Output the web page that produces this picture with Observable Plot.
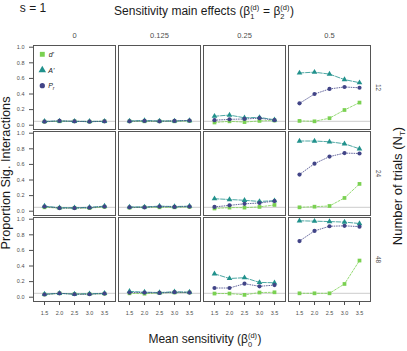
<!DOCTYPE html>
<html>
<head>
<meta charset="utf-8">
<script src="https://cdn.jsdelivr.net/npm/d3@7"></script>
<script src="https://cdn.jsdelivr.net/npm/@observablehq/plot@0.6"></script>
<style>
  body { margin: 0; background: #fff; }
  #chart svg { display: block; }
</style>
</head>
<body>
<div id="chart"></div>
<script>
// Facet levels
const effects = ["0", "0.125", "0.25", "0.5"];      // sensitivity main effects (columns)
const trials = [12, 24, 48];                         // number of trials (rows)
const sensitivity = [1.5, 2.0, 2.5, 3.0, 3.5];       // mean sensitivity (x)
const measures = ["d'", "A'", "Pr"];
const alphaLevel = 0.05;
const yTicks = [0, 0.2, 0.4, 0.6, 0.8, 1.0];

// Proportion of significant interactions: [trials][effect][sensitivity]
const dPrime = [
  [[0.045, 0.05, 0.05, 0.045, 0.05], [0.05, 0.05, 0.05, 0.05, 0.055], [0.035, 0.05, 0.04, 0.055, 0.06], [0.055, 0.05, 0.09, 0.195, 0.29]],
  [[0.05, 0.04, 0.04, 0.04, 0.055], [0.045, 0.05, 0.05, 0.05, 0.055], [0.035, 0.046, 0.046, 0.055, 0.08], [0.05, 0.058, 0.067, 0.17, 0.35]],
  [[0.035, 0.05, 0.04, 0.04, 0.045], [0.05, 0.045, 0.055, 0.06, 0.06], [0.047, 0.047, 0.03, 0.06, 0.063], [0.05, 0.05, 0.05, 0.17, 0.47]]
];
const aPrime = [
  [[0.05, 0.055, 0.05, 0.05, 0.05], [0.055, 0.06, 0.055, 0.055, 0.06], [0.115, 0.13, 0.095, 0.10, 0.07], [0.67, 0.68, 0.655, 0.585, 0.545]],
  [[0.065, 0.045, 0.045, 0.05, 0.065], [0.055, 0.055, 0.065, 0.06, 0.065], [0.16, 0.15, 0.14, 0.125, 0.135], [0.90, 0.90, 0.89, 0.865, 0.80]],
  [[0.04, 0.05, 0.04, 0.045, 0.05], [0.075, 0.065, 0.06, 0.07, 0.065], [0.30, 0.24, 0.25, 0.19, 0.185], [0.98, 0.975, 0.97, 0.963, 0.945]]
];
const pR = [
  [[0.045, 0.055, 0.05, 0.045, 0.05], [0.05, 0.055, 0.05, 0.055, 0.06], [0.065, 0.075, 0.08, 0.09, 0.065], [0.28, 0.40, 0.465, 0.49, 0.48]],
  [[0.06, 0.04, 0.04, 0.045, 0.06], [0.05, 0.05, 0.06, 0.055, 0.06], [0.055, 0.075, 0.095, 0.105, 0.13], [0.47, 0.61, 0.70, 0.745, 0.74]],
  [[0.035, 0.05, 0.038, 0.038, 0.047], [0.06, 0.06, 0.055, 0.065, 0.06], [0.118, 0.118, 0.173, 0.14, 0.155], [0.72, 0.85, 0.91, 0.915, 0.905]]
];

const colors = ["#7AD151", "#21918C", "#414487"];
const symbols = ["square", "triangle", "circle"];
const dashes = ["2,1.6", "4.5,1.6", "0.8,1.6"];

// Long-format table for the marks
const series = [dPrime, aPrime, pR];
const rows = [];
measures.forEach((m, mi) => {
  trials.forEach((n, i) => {
    effects.forEach((e, j) => {
      sensitivity.forEach((s, k) => {
        rows.push({measure: m, trials: n, effect: e, sensitivity: s, value: series[mi][i][j][k]});
      });
    });
  });
});

const font = "'Liberation Sans', Arial, sans-serif";

const plot = Plot.plot({
  width: 407,
  height: 351,
  marginTop: 44,
  marginBottom: 49,
  marginLeft: 33,
  marginRight: 36,
  style: {fontFamily: font, background: "#fff", color: "#4d4d4d"},
  fx: {domain: effects, paddingInner: 0.035, paddingOuter: 0},
  fy: {domain: trials, paddingInner: 0.029, paddingOuter: 0},
  x: {type: "point", domain: sensitivity, padding: 0.6},
  y: {domain: [-0.055, 1.022]},
  color: {domain: measures, range: colors},
  symbol: {domain: measures, range: symbols},
  marks: [
    Plot.ruleY([alphaLevel], {stroke: "#d6d6d6", strokeWidth: 1.2}),
    ...measures.map((m, mi) => Plot.line(rows.filter(d => d.measure === m), {
      x: "sensitivity", y: "value", fx: "effect", fy: "trials",
      stroke: colors[mi], strokeWidth: 0.8, strokeDasharray: dashes[mi]
    })),
    Plot.dot(rows, {
      x: "sensitivity", y: "value", fx: "effect", fy: "trials",
      symbol: "measure", fill: "measure", r: 2.1
    }),
    Plot.frame({stroke: "#555", strokeWidth: 1}),
    Plot.axisX({ticks: sensitivity, tickFormat: d => d.toFixed(1), tickSize: 4, tickPadding: 6, fontSize: 5.5, label: null, color: "#4d4d4d"}),
    Plot.axisY({ticks: yTicks, tickFormat: d => d.toFixed(1), tickSize: 4, tickPadding: 5, fontSize: 5.5, label: null, color: "#4d4d4d"}),
    Plot.axisFx({anchor: "top", tickSize: 0, tickPadding: 8, fontSize: 7.5, label: null, color: "#4d4d4d"}),
    Plot.axisFy({anchor: "right", tickSize: 0, tickPadding: 10, tickRotate: 90, fontSize: 6.5, label: null, color: "#4d4d4d"})
  ]
});

document.getElementById("chart").appendChild(plot);

const svg = d3.select(plot);
const ann = svg.append("g").attr("font-family", font).attr("fill", "#1a1a1a");

// Text with stacked super/subscripts, e.g. β with (d) above and 1 below
function mathText(parent, size, parts) {
  const t = parent.append("text").attr("font-size", size).attr("text-anchor", "middle");
  let cur = 0, pendingDx = 0;
  const ss = size * 0.62;
  parts.forEach(p => {
    if (typeof p === "string") {
      t.append("tspan").attr("font-size", size).attr("dy", -cur).attr("dx", pendingDx).text(p);
      cur = 0; pendingDx = 0;
    } else if (p.sup !== undefined && p.sub !== undefined) {
      const up = t.append("tspan").attr("font-size", ss).attr("dy", -0.42 * size - cur).attr("dx", pendingDx).text(p.sup);
      const wUp = up.node().getComputedTextLength();
      const dn = t.append("tspan").attr("font-size", ss).attr("dy", 0.72 * size).attr("dx", -wUp).text(p.sub);
      const wDn = dn.node().getComputedTextLength();
      cur = 0.3 * size;
      pendingDx = Math.max(0, wUp - wDn) + 0.5;
    } else if (p.sub !== undefined) {
      t.append("tspan").attr("font-size", ss).attr("dy", 0.25 * size - cur).attr("dx", pendingDx).text(p.sub);
      cur = 0.25 * size; pendingDx = 0;
    }
  });
  return t;
}

// Panel label at the top left
ann.append("text").attr("x", 33).attr("y", 11.5).attr("font-size", 12).text("s = 1");

// Column title
mathText(ann, 12, ["Sensitivity main effects (β", {sup: "(d)", sub: "1"}, " = β", {sup: "(d)", sub: "2"}, ")"])
  .attr("x", 204).attr("y", 15);

// x axis title
mathText(ann, 12, ["Mean sensitivity (β", {sup: "(d)", sub: "0"}, ")"])
  .attr("x", 205).attr("y", 343);

// y axis title
ann.append("text")
  .attr("transform", "translate(10,173) rotate(-90)")
  .attr("text-anchor", "middle").attr("font-size", 12.7)
  .text("Proportion Sig. Interactions");

// Row title
mathText(ann, 13, ["Number of trials (N", {sub: "T"}, ")"])
  .attr("transform", "translate(402,186) rotate(-90)");

// Legend in the first panel
const legendSymbols = [d3.symbolSquare, d3.symbolTriangle, d3.symbolCircle];
const leg = ann.append("g").attr("transform", "translate(42.3,54.3)");
measures.forEach((m, i) => {
  const g = leg.append("g").attr("transform", `translate(0,${i * 15.7})`);
  g.append("path").attr("d", d3.symbol(legendSymbols[i], i === 2 ? 22 : 24)()).attr("fill", colors[i]);
  const t = g.append("text").attr("x", 9).attr("y", 2.5).attr("font-size", 7).attr("font-style", "italic");
  if (m === "Pr") {
    t.append("tspan").text("P");
    t.append("tspan").attr("font-size", 5).attr("dy", 2).text("r");
  } else {
    t.text(m);
  }
});
</script>
</body>
</html>
